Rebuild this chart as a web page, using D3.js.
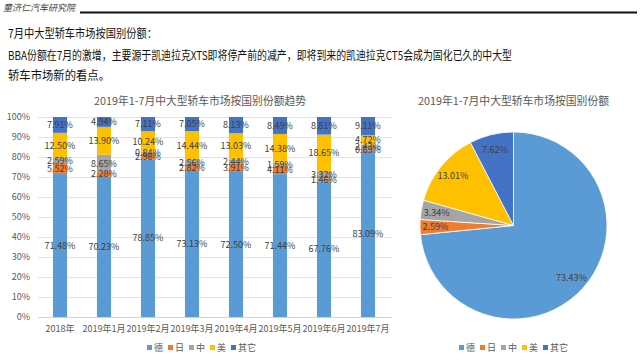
<!DOCTYPE html>
<html><head><meta charset="utf-8">
<script src="https://cdn.jsdelivr.net/npm/d3@7"></script>
<style>
body{margin:0;background:#fff;}
svg{display:block;font-family:"Noto Sans CJK SC","Noto Sans",sans-serif;}
</style></head>
<body>
<svg id="c" width="640" height="360"></svg>
<script>
const categories = ["2018年","2019年1月","2019年2月","2019年3月","2019年4月","2019年5月","2019年6月","2019年7月"];
const seriesNames = ["德","日","中","美","其它"];
const seriesColors = ["#5B9BD5","#ED7D31","#A5A5A5","#FFC000","#4472C4"];
const deValues    = [71.48, 70.23, 78.85, 73.13, 72.50, 71.44, 67.76, 83.09];
const riValues    = [5.52, 2.28, 2.96, 2.82, 3.91, 4.11, 1.46, 0.65];
const zhongValues = [2.59, 8.65, 0.84, 2.56, 2.44, 1.59, 3.32, 2.43];
const meiValues   = [12.50, 13.90, 10.24, 14.44, 13.03, 14.38, 18.65, 4.72];
const otherValues = [7.91, 4.94, 7.11, 7.05, 8.13, 8.49, 8.81, 9.11];
const yTicks = [0,10,20,30,40,50,60,70,80,90,100];
const pieValues = [73.43, 2.59, 3.34, 13.01, 7.62];

const svg = d3.select("#c");

// header
svg.append("text").attr("x",3).attr("y",11).attr("font-size",9).attr("font-style","italic")
  .attr("fill","#404040").attr("textLength",72).attr("lengthAdjust","spacingAndGlyphs").text("童济仁汽车研究院");
svg.append("line").attr("x1",80).attr("x2",637).attr("y1",12.5).attr("y2",12.5).attr("stroke","#111").attr("stroke-width",2);

const para = [
  {t:"7月中大型轿车市场按国别份额：", y:38, w:149},
  {t:"BBA份额在7月的激增，主要源于凯迪拉克XTS即将停产前的减产，即将到来的凯迪拉克CT5会成为固化已久的中大型", y:60, w:504},
  {t:"轿车市场新的看点。", y:80, w:102}
];
para.forEach(p=>{
  svg.append("text").attr("x",8).attr("y",p.y).attr("font-size",12).attr("fill","#111")
    .attr("textLength",p.w).attr("lengthAdjust","spacingAndGlyphs").text(p.t);
});

// bar chart
const rows = categories.map((c,i)=>({cat:c, "德":deValues[i], "日":riValues[i], "中":zhongValues[i], "美":meiValues[i], "其它":otherValues[i]}));
const stack = d3.stack().keys(seriesNames)(rows);
const x = d3.scaleBand().domain(categories).range([38,390]).paddingInner(0.68).paddingOuter(0.34);
const y = d3.scaleLinear().domain([0,100]).range([317,117]);

svg.append("text").attr("x",200).attr("y",105).attr("text-anchor","middle").attr("font-size",11)
  .attr("fill","#595959").attr("textLength",212).attr("lengthAdjust","spacingAndGlyphs").text("2019年1-7月中大型轿车市场按国别份额趋势");

const grid = svg.append("g");
yTicks.forEach(t=>{
  grid.append("line").attr("x1",38).attr("x2",392).attr("y1",y(t)+0.5).attr("y2",y(t)+0.5)
    .attr("stroke",t===0?"#d0d0d0":"#e3e3e3").attr("stroke-width",1);
});
const yAxis = d3.axisLeft(y).tickValues(yTicks).tickFormat(d=>d+"%").tickSize(0).tickPadding(0);
const ya = svg.append("g").attr("transform","translate(30,0)").call(yAxis);
ya.select(".domain").remove();
ya.selectAll("text").attr("font-size",9).attr("fill","#595959").attr("font-family","'Noto Sans CJK SC',sans-serif");

const xAxis = d3.axisBottom(x).tickSize(0).tickPadding(0);
const xa = svg.append("g").attr("transform","translate(0,326)").call(xAxis);
xa.select(".domain").remove();
xa.selectAll("text").attr("font-size",9).attr("fill","#595959").attr("font-family","'Noto Sans CJK SC',sans-serif");

stack.forEach((s,si)=>{
  const g = svg.append("g");
  g.selectAll("rect").data(s).join("rect")
    .attr("x",d=>x(d.data.cat)).attr("width",x.bandwidth())
    .attr("y",d=>y(d[1])).attr("height",d=>y(d[0])-y(d[1]))
    .attr("fill",seriesColors[si]);
});
stack.forEach((s,si)=>{
  svg.append("g").selectAll("text").data(s).join("text")
    .attr("x",d=>x(d.data.cat)+x.bandwidth()/2)
    .attr("y",d=>(y(d[0])+y(d[1]))/2+3.2)
    .attr("text-anchor","middle").attr("font-size",9).attr("fill","#404040")
    .text(d=>(d[1]-d[0]).toFixed(2)+"%");
});

function legend(cx, yy){
  const g = svg.append("g");
  const widths = seriesNames.map(n=>n.length*9+12);
  const total = d3.sum(widths);
  let xx = cx - total/2;
  seriesNames.forEach((n,i)=>{
    g.append("rect").attr("x",xx).attr("y",yy-5).attr("width",5).attr("height",5).attr("fill",seriesColors[i]);
    g.append("text").attr("x",xx+7).attr("y",yy+1).attr("font-size",9).attr("fill","#595959").text(n);
    xx += widths[i];
  });
}
legend(204, 350);

// pie
const cx = 513.5, cy = 225.5, R = 93.5;
svg.append("text").attr("x",513.5).attr("y",105).attr("text-anchor","middle").attr("font-size",11)
  .attr("fill","#595959").attr("textLength",191).attr("lengthAdjust","spacingAndGlyphs").text("2019年1-7月中大型轿车市场按国别份额");
const pie = d3.pie().sort(null).value(d=>d)(pieValues);
const arc = d3.arc().innerRadius(0).outerRadius(R);
const labelArc = d3.arc().innerRadius(78).outerRadius(78);
const pg = svg.append("g").attr("transform",`translate(${cx},${cy})`);
pg.selectAll("path").data(pie).join("path").attr("d",arc)
  .attr("fill",(d,i)=>seriesColors[i]).attr("stroke","#fff").attr("stroke-width",0.8);
pg.selectAll("text").data(pie).join("text")
  .attr("transform",d=>`translate(${labelArc.centroid(d)})`).attr("dy",3.2)
  .attr("text-anchor","middle").attr("font-size",9).attr("fill","#404040")
  .text(d=>d.data.toFixed(2)+"%");
legend(516, 350);
</script>
</body></html>
